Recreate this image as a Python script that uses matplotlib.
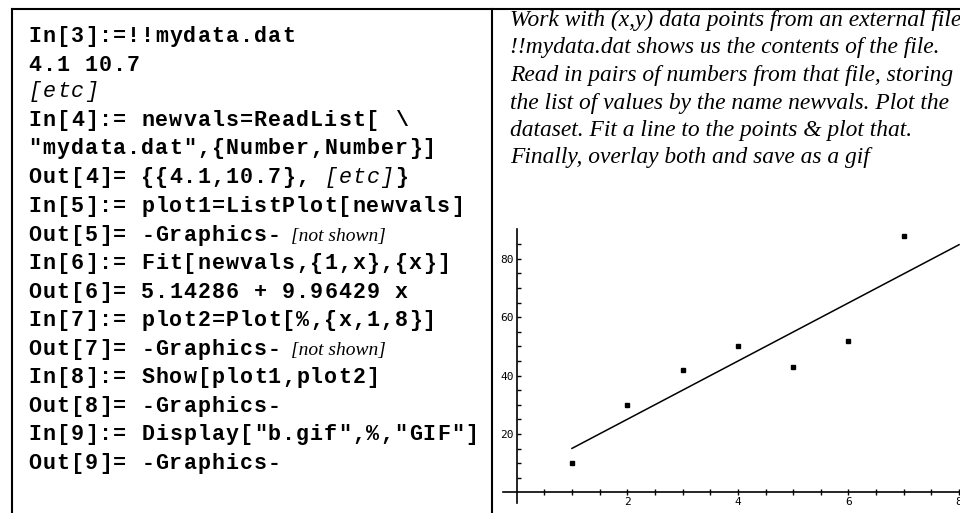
import numpy as np
import matplotlib
matplotlib.use("Agg")
import matplotlib.pyplot as plt
from matplotlib.lines import Line2D

# data read from the ListPlot
xs = [1, 2, 3, 4, 5, 6, 7]
ys = [10, 30, 42, 50, 43, 52, 88]
xticks = [2, 4, 6, 8]
yticks = [20, 40, 60, 80]

# notebook lines: (baseline pixel, [(char index, text, style), ...])
code_lines = [
    (42, [(0, 'In[3]:=!!mydata.dat', 'b')]),
    (71, [(0, '4.1 10.7', 'b')]),
    (97, [(0, '[etc]', 'i')]),
    (126, [(0, 'In[4]:= newvals=ReadList[ \\', 'b')]),
    (154, [(0, '"mydata.dat",{Number,Number}]', 'b')]),
    (183, [(0, 'Out[4]= {{4.1,10.7},', 'b'), (21, '[etc]', 'i'), (26, '}', 'b')]),
    (212, [(0, 'In[5]:= plot1=ListPlot[newvals]', 'b')]),
    (241, [(0, 'Out[5]= -Graphics-', 'b'), (18.7, '[not shown]', 't')]),
    (269, [(0, 'In[6]:= Fit[newvals,{1,x},{x}]', 'b')]),
    (298, [(0, 'Out[6]= 5.14286 + 9.96429 x', 'b')]),
    (326, [(0, 'In[7]:= plot2=Plot[%,{x,1,8}]', 'b')]),
    (355, [(0, 'Out[7]= -Graphics-', 'b'), (18.7, '[not shown]', 't')]),
    (383, [(0, 'In[8]:= Show[plot1,plot2]', 'b')]),
    (412, [(0, 'Out[8]= -Graphics-', 'b')]),
    (440, [(0, 'In[9]:= Display["b.gif",%,"GIF"]', 'b')]),
    (469, [(0, 'Out[9]= -Graphics-', 'b')]),
]

notes = [
    'Work with (x,y) data points from an external file',
    '!!mydata.dat shows us the contents of the file.',
    'Read in pairs of numbers from that file, storing',
    'the list of values by the name newvals. Plot the',
    'dataset. Fit a line to the points & plot that.',
    'Finally, overlay both and save as a gif',
]

W, H = 960, 513
fig = plt.figure(figsize=(W / 100, H / 100), dpi=100)


def px(x, y):
    return x / W, 1 - y / H


# frame lines
for (x0, y0), (x1, y1) in [((12, 9), (12, 513)), ((12, 9), (960, 9)), ((492, 9), (492, 513))]:
    a, b = px(x0, y0)
    c, d = px(x1, y1)
    fig.add_artist(Line2D([a, c], [b, d], color='black', lw=1.5))

# left column: the notebook session, typed on a fixed character grid
mono_size = 15.6
char_w = 14.08
for y, parts in code_lines:
    for idx, s, style in parts:
        if style == 't':
            fig.text(*px(28 + idx * char_w, y), s, family='Liberation Serif',
                     style='italic', fontsize=14, va='baseline', ha='left', color='black')
            continue
        kw = dict(family='Liberation Mono', fontsize=mono_size, va='baseline',
                  ha='center', color='black')
        if style == 'b':
            kw['weight'] = 'bold'
        else:
            kw['style'] = 'italic'
        for k, ch in enumerate(s):
            if ch != ' ':
                fig.text(*px(28 + (idx + k + 0.5) * char_w, y), ch, **kw)

# right column: the explanation
for i, s in enumerate(notes):
    fig.text(*px(510, 26 + i * 27.5), s, family='Liberation Serif', style='italic',
             fontsize=16.9, va='baseline', ha='left', color='black')

# the plot, axes through the origin like Mathematica
ax = fig.add_axes([502.9 / W, 1 - 503.0 / H, 461.7 / W, 273.9 / H])
ax.set_xlim(-0.25, 8.1)
ax.set_ylim(-3.6, 90.2)
ax.patch.set_alpha(0)
for s in ['top', 'right']:
    ax.spines[s].set_visible(False)
ax.spines['left'].set_position(('data', 0))
ax.spines['bottom'].set_position(('data', 0))
for s in ['left', 'bottom']:
    ax.spines[s].set_linewidth(1.2)

ax.plot(xs, ys, 's', color='black', markersize=2.6)
slope, icept = np.polyfit(xs, ys, 1)
xl = np.array([1, 8])
ax.plot(xl, icept + slope * xl, color='black', lw=1.1)

ax.set_xticks(xticks)
ax.set_yticks(yticks)
ax.set_xticks(np.arange(0.5, 8.1, 0.5), minor=True)
ax.set_yticks(np.arange(5, 90, 5), minor=True)
ax.tick_params(axis='x', which='both', direction='inout', length=4, width=1, pad=1,
               labelsize=8)
ax.tick_params(axis='y', which='both', direction='in', length=3, width=1, pad=2,
               labelsize=8)
for lab in ax.get_xticklabels() + ax.get_yticklabels():
    lab.set_family('DejaVu Sans Mono')

fig.savefig('out.png', dpi=100)
